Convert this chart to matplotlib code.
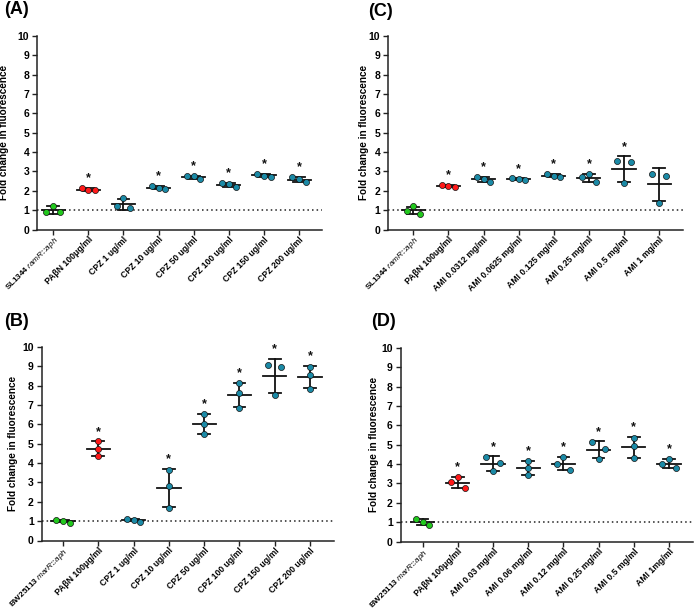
import numpy as np
import matplotlib
matplotlib.use('Agg')
import matplotlib.pyplot as plt

plt.rcParams['font.family'] = ['Liberation Sans', 'DejaVu Sans']
plt.rcParams['mathtext.fontset'] = 'custom'
plt.rcParams['mathtext.it'] = 'Liberation Sans:italic'
plt.rcParams['mathtext.rm'] = 'Liberation Sans'

# ── Data (three replicates per condition, fold change in fluorescence) ───────
labels_a = [r'SL1344 $\mathit{ramR}$::$\mathit{aph}$', 'PAβN 100μg/ml', 'CPZ 1 ug/ml', 'CPZ 10 ug/ml',
            'CPZ 50 ug/ml', 'CPZ 100 ug/ml', 'CPZ 150 ug/ml', 'CPZ 200 ug/ml']
values_a = [[0.90, 1.24, 0.90], [2.14, 2.04, 2.02], [1.21, 1.64, 1.10], [2.26, 2.14, 2.09],
            [2.76, 2.74, 2.62], [2.40, 2.33, 2.21], [2.88, 2.79, 2.71], [2.69, 2.59, 2.45]]
signif_a = [False, True, False, True, True, True, True, True]

labels_c = [r'SL1344 $\mathit{ramR}$::$\mathit{aph}$', 'PAβN 100ug/ml', 'AMI 0.0312 mg/ml', 'AMI 0.0625 mg/ml',
            'AMI 0.125 mg/ml', 'AMI 0.25 mg/ml', 'AMI 0.5 mg/ml', 'AMI 1 mg/ml']
values_c = [[0.98, 1.19, 0.81], [2.29, 2.26, 2.21], [2.71, 2.62, 2.47], [2.64, 2.59, 2.55],
            [2.88, 2.78, 2.70], [2.71, 2.85, 2.45], [3.54, 2.38, 3.47], [2.86, 1.36, 2.77]]
signif_c = [False, True, True, True, True, True, True, False]

labels_b = [r'BW25113 $\mathit{marR}$::$\mathit{aph}$', 'PAβN 100μg/ml', 'CPZ 1 ug/ml', 'CPZ 10 ug/ml',
            'CPZ 50 ug/ml', 'CPZ 100 ug/ml', 'CPZ 150 ug/ml', 'CPZ 200 ug/ml']
values_b = [[1.04, 1.00, 0.93], [5.12, 4.75, 4.37], [1.12, 1.07, 0.98], [3.63, 2.84, 1.69],
            [6.55, 6.01, 5.49], [8.12, 7.60, 6.84], [9.07, 7.50, 8.95], [8.98, 8.55, 7.84]]
signif_b = [False, True, False, True, True, True, True, True]

labels_d = [r'BW25113 $\mathit{marR}$::$\mathit{aph}$', 'PAβN 100μg/ml', 'AMI 0.03 mg/ml', 'AMI 0.06 mg/ml',
            'AMI 0.12 mg/ml', 'AMI 0.25 mg/ml', 'AMI 0.5 mg/ml', 'AMI 1mg/ml']
values_d = [[1.14, 1.02, 0.83], [3.07, 3.31, 2.74], [4.39, 3.63, 4.04], [4.18, 3.80, 3.42],
            [4.02, 4.35, 3.69], [5.13, 4.26, 4.80], [5.37, 4.94, 4.30], [4.02, 4.26, 3.80]]
signif_d = [False, True, True, True, True, True, True, True]

GREEN = '#22C81E'
RED = '#FF1A1A'
TEAL = '#1B8AA6'
group_colors = [GREEN, RED] + [TEAL] * 6

W, H = 694, 610
fig = plt.figure(figsize=(W / 100, H / 100), dpi=100)


def spread(vals, thr=0.36, step=0.19):
    """Prism-like scatter: points closer than thr are spread sideways."""
    vals = np.asarray(vals)
    order = np.argsort(-vals)
    clusters, cur = [], [order[0]]
    for a, b in zip(order[:-1], order[1:]):
        if vals[a] - vals[b] < thr:
            cur.append(b)
        else:
            clusters.append(cur)
            cur = [b]
    clusters.append(cur)
    offs = np.zeros(len(vals))
    for cl in clusters:
        cl = sorted(cl)
        if len(cl) == 2:
            offs[cl[0]], offs[cl[1]] = -step, step
        elif len(cl) >= 3:
            for k, i in enumerate(cl):
                offs[i] = (k - (len(cl) - 1) / 2) * step
    return offs


def panel(box, xlim, labels, values, signif, tag, tag_xy, ylab_x):
    l, r, t, b = box
    ax = fig.add_axes([l / W, 1 - b / H, (r - l) / W, (b - t) / H])
    ax.axhline(1, color='#222222', lw=1.1, ls=(0, (1, 2)), zorder=1)
    for i, vals in enumerate(values):
        vals = np.asarray(vals)
        m, sd = vals.mean(), vals.std(ddof=1)
        ax.plot([i - 0.33, i + 0.33], [m, m], color='#111111', lw=1.3, zorder=2)
        ax.plot([i, i], [m - sd, m + sd], color='#111111', lw=1.3, zorder=2)
        for y in (m - sd, m + sd):
            ax.plot([i - 0.165, i + 0.165], [y, y], color='#111111', lw=1.3, zorder=2)
        ax.scatter(i + spread(vals), vals, s=19, color=group_colors[i],
                   edgecolor='#111111', linewidth=0.5, zorder=3)
        if signif[i]:
            top = max(m + sd, vals.max())
            ax.text(i, top + 0.5, '*', ha='center', va='center',
                    fontsize=9, fontweight='bold', color='#111111')
    ax.set_xlim(*xlim)
    ax.set_ylim(0, 10)
    ax.set_yticks(range(0, 11))
    ax.set_xticks(range(len(labels)))
    ax.set_xticklabels(labels, rotation=45, ha='right', rotation_mode='anchor',
                       fontsize=6.2, fontweight='bold')
    ax.get_xticklabels()[0].set_fontsize(5.9)
    for lab in ax.get_yticklabels():
        lab.set_fontweight('bold')
        lab.set_fontsize(7.5)
    ax.tick_params(axis='both', direction='out', length=3.5, width=1.0,
                   color='#222222', pad=2)
    ax.tick_params(axis='x', pad=0.5)
    for s in ('top', 'right'):
        ax.spines[s].set_visible(False)
    for s in ('left', 'bottom'):
        ax.spines[s].set_linewidth(1.1)
        ax.spines[s].set_color('#222222')
    ax.set_ylabel('Fold change in fluorescence', fontsize=7.2, fontweight='bold')
    ax.yaxis.set_label_coords((ylab_x - l) / (r - l), 0.5)
    fig.text(tag_xy[0] / W, 1 - tag_xy[1] / H, tag, fontsize=13, fontweight='bold',
             ha='left', va='center')
    return ax


panel((37, 322, 36, 229.5), (-0.46, 7.65), labels_a, values_a, signif_a,
      '(A)', (4, 10), 9)
panel((388, 683, 36, 229.5), (-0.72, 7.68), labels_c, values_c, signif_c,
      '(C)', (368, 11), 369)
panel((41.5, 334, 347, 540.5), (-0.61, 7.68), labels_b, values_b, signif_b,
      '(B)', (4, 322), 18)
panel((400.5, 693, 348, 541.5), (-0.63, 7.68), labels_d, values_d, signif_d,
      '(D)', (371, 322), 379)

fig.savefig('out.png', dpi=100)
